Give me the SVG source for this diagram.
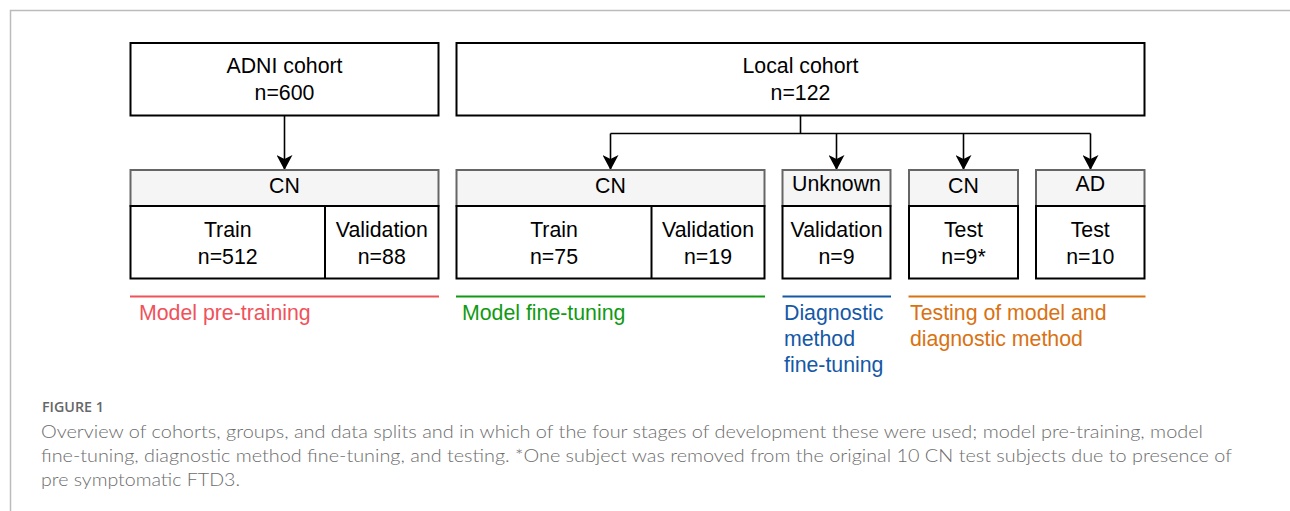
<svg xmlns="http://www.w3.org/2000/svg" width="1290" height="511" viewBox="0 0 1290 511">
<style>
.box{fill:#ffffff;stroke:#000000;stroke-width:2}
.hdr{fill:#f5f5f5;stroke:#666666;stroke-width:2}
.t{font-family:"Liberation Sans",Arial,sans-serif;font-size:21.3px;fill:#000000;text-anchor:middle}
.lbl{font-family:"Liberation Sans",Arial,sans-serif;font-size:21.3px}
.con{fill:none;stroke:#000000;stroke-width:1.6}
.cap{font-family:Lato,"Open Sans",sans-serif;font-size:17.5px;font-weight:300;fill:#6c6c6c}
</style>
<defs>
<marker id="arr" markerUnits="userSpaceOnUse" markerWidth="15" markerHeight="16" viewBox="0 0 15 16" refX="15" refY="8" orient="auto">
<path d="M0,0 L15,8 L0,16 L4,8 Z" fill="#000000"/>
</marker>
</defs>
<rect x="0" y="0" width="1290" height="511" fill="#ffffff"/>
<path d="M10.5,511 L10.5,10.5 L1290,10.5" fill="none" stroke="#bbbbbb" stroke-width="1.5"/>

<g id="connectors">
<path class="con" d="M284.5,115.5 L284.5,170" marker-end="url(#arr)"/>
<path class="con" d="M800.5,115.5 L800.5,133.5"/>
<path class="con" d="M610.5,133.5 L1090.5,133.5"/>
<path class="con" d="M610.5,133.5 L610.5,170" marker-end="url(#arr)"/>
<path class="con" d="M836.5,133.5 L836.5,170" marker-end="url(#arr)"/>
<path class="con" d="M963.5,133.5 L963.5,170" marker-end="url(#arr)"/>
<path class="con" d="M1090.5,133.5 L1090.5,170" marker-end="url(#arr)"/>
</g>

<g id="adni">
<rect class="box" x="130.5" y="43" width="308" height="72.5"/>
<text class="t" x="284.5" y="73">ADNI cohort</text>
<text class="t" x="284.5" y="100">n=600</text>
</g>

<g id="local">
<rect class="box" x="456.5" y="43" width="688" height="72.5"/>
<text class="t" x="800.5" y="73">Local cohort</text>
<text class="t" x="800.5" y="100">n=122</text>
</g>

<g id="adni-cn">
<rect class="hdr" x="130.5" y="170" width="308" height="36"/>
<rect class="box" x="130.5" y="206" width="308" height="72.5"/>
<line x1="325" y1="206" x2="325" y2="278.5" stroke="#000" stroke-width="2"/>
<text class="t" x="284.5" y="193">CN</text>
<text class="t" x="227.75" y="237">Train</text>
<text class="t" x="227.75" y="263.5">n=512</text>
<text class="t" x="381.75" y="237">Validation</text>
<text class="t" x="381.75" y="263.5">n=88</text>
</g>

<g id="local-cn">
<rect class="hdr" x="456.5" y="170" width="308" height="36"/>
<rect class="box" x="456.5" y="206" width="308" height="72.5"/>
<line x1="651.5" y1="206" x2="651.5" y2="278.5" stroke="#000" stroke-width="2"/>
<text class="t" x="610.5" y="193">CN</text>
<text class="t" x="554" y="237">Train</text>
<text class="t" x="554" y="263.5">n=75</text>
<text class="t" x="708" y="237">Validation</text>
<text class="t" x="708" y="263.5">n=19</text>
</g>

<g id="unknown">
<rect class="hdr" x="782.5" y="170" width="108" height="36"/>
<rect class="box" x="782.5" y="206" width="108" height="72.5"/>
<text class="t" x="836.5" y="191">Unknown</text>
<text class="t" x="836.5" y="237">Validation</text>
<text class="t" x="836.5" y="263.5">n=9</text>
</g>

<g id="test-cn">
<rect class="hdr" x="909" y="170" width="109" height="36"/>
<rect class="box" x="909" y="206" width="109" height="72.5"/>
<text class="t" x="963.5" y="193">CN</text>
<text class="t" x="963.5" y="237">Test</text>
<text class="t" x="963.5" y="263.5">n=9*</text>
</g>

<g id="test-ad">
<rect class="hdr" x="1036" y="170" width="108.5" height="36"/>
<rect class="box" x="1036" y="206" width="108.5" height="72.5"/>
<text class="t" x="1090.25" y="191">AD</text>
<text class="t" x="1090.25" y="237">Test</text>
<text class="t" x="1090.25" y="263.5">n=10</text>
</g>

<g id="stage-pretrain">
<line x1="130" y1="296.5" x2="439" y2="296.5" stroke="#f0525a" stroke-width="2"/>
<text class="lbl" x="139" y="320" fill="#f0525a">Model pre-training</text>
</g>
<g id="stage-finetune">
<line x1="456" y1="296.5" x2="765" y2="296.5" stroke="#109a12" stroke-width="2"/>
<text class="lbl" x="462" y="320" fill="#109a12">Model fine-tuning</text>
</g>
<g id="stage-diag">
<line x1="782.5" y1="296.5" x2="891" y2="296.5" stroke="#1558a6" stroke-width="2"/>
<text class="lbl" fill="#1558a6"><tspan x="784" y="320">Diagnostic</tspan><tspan x="784" y="346">method</tspan><tspan x="784" y="372">fine-tuning</tspan></text>
</g>
<g id="stage-test">
<line x1="908.5" y1="296.5" x2="1145.5" y2="296.5" stroke="#d97212" stroke-width="2"/>
<text class="lbl" fill="#d97212"><tspan x="910" y="320">Testing of model and</tspan><tspan x="910" y="346">diagnostic method</tspan></text>
</g>

<g id="caption">
<text x="42" y="412" font-family="'Open Sans',Lato,sans-serif" font-size="13.5" font-weight="600" fill="#666666" textLength="62" lengthAdjust="spacingAndGlyphs">FIGURE 1</text>
<text class="cap" x="41" y="437.5" textLength="1162" lengthAdjust="spacingAndGlyphs">Overview of cohorts, groups, and data splits and in which of the four stages of development these were used; model pre-training, model</text>
<text class="cap" x="41" y="462" textLength="1191" lengthAdjust="spacingAndGlyphs">fine-tuning, diagnostic method fine-tuning, and testing. *One subject was removed from the original 10 CN test subjects due to presence of</text>
<text class="cap" x="41" y="486" textLength="199" lengthAdjust="spacingAndGlyphs">pre symptomatic FTD3.</text>
</g>
</svg>
